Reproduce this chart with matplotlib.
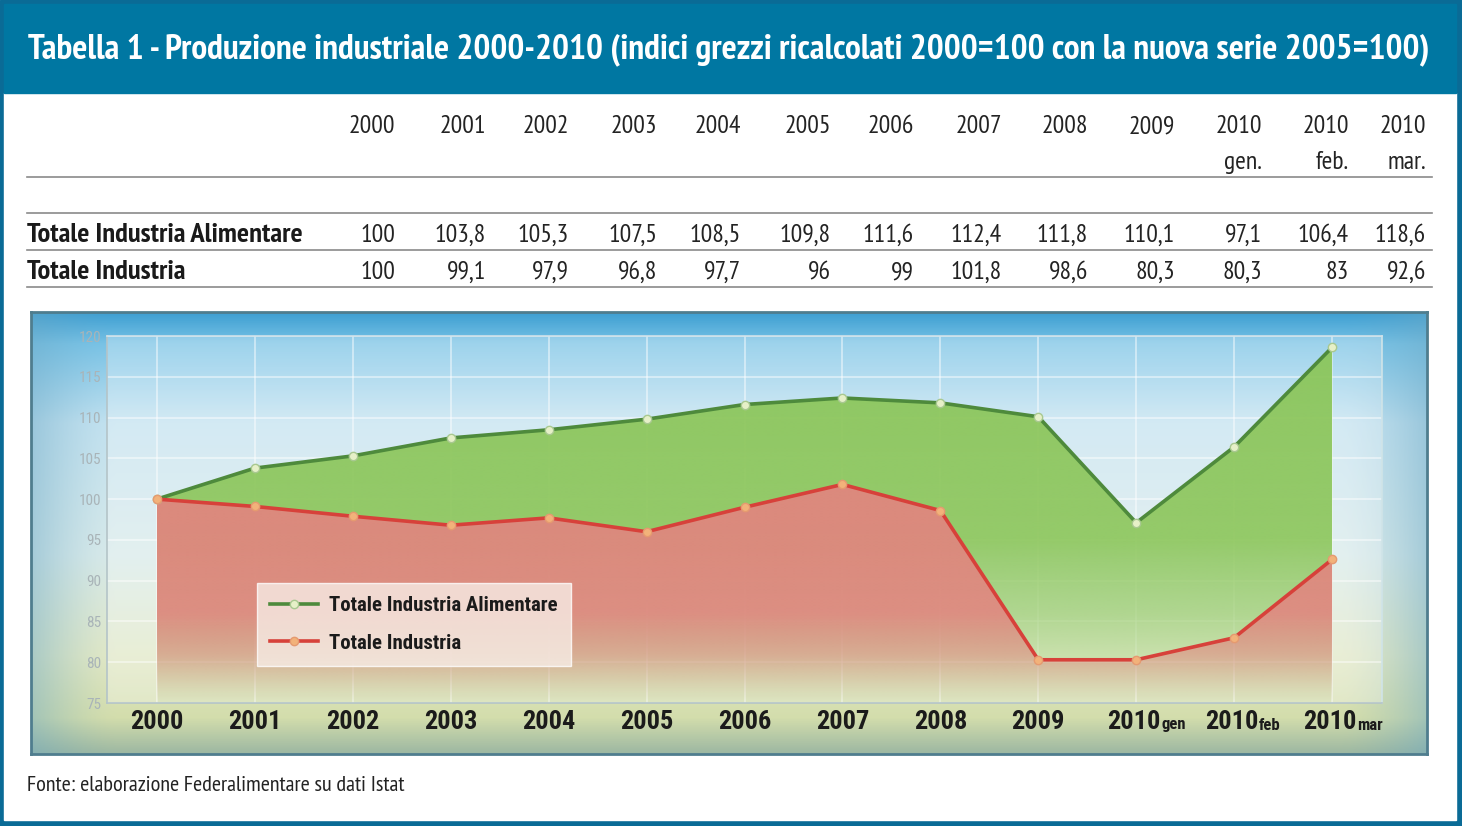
import numpy as np
import matplotlib
matplotlib.use("Agg")
import matplotlib.pyplot as plt
from matplotlib.colors import to_rgb
from matplotlib.patches import Rectangle

# ---------------- data ----------------
title = "Tabella 1 - Produzione industriale 2000-2010 (indici grezzi ricalcolati 2000=100 con la nuova serie 2005=100)"
col_years = ["2000", "2001", "2002", "2003", "2004", "2005", "2006", "2007", "2008", "2009", "2010", "2010", "2010"]
col_months = ["", "", "", "", "", "", "", "", "", "", "gen.", "feb.", "mar."]
chart_months = ["", "", "", "", "", "", "", "", "", "", "gen", "feb", "mar"]
series_names = ["Totale Industria Alimentare", "Totale Industria"]
alimentare = [100, 103.8, 105.3, 107.5, 108.5, 109.8, 111.6, 112.4, 111.8, 110.1, 97.1, 106.4, 118.6]
industria = [100, 99.1, 97.9, 96.8, 97.7, 96, 99, 101.8, 98.6, 80.3, 80.3, 83, 92.6]
y_ticks = [75, 80, 85, 90, 95, 100, 105, 110, 115, 120]
source = "Fonte: elaborazione Federalimentare su dati Istat"

# ---------------- fonts ----------------
FAM = ["PT Sans Narrow", "DejaVu Sans"]
FAM_TITLE = ["PT Sans Narrow", "DejaVu Sans"]
FAM_CHART = ["Roboto Condensed", "DejaVu Sans"]

W, H = 1462, 826
fig = plt.figure(figsize=(W / 100, H / 100), dpi=100)

bg = fig.add_axes([0, 0, 1, 1])
bg.set_xlim(0, W)
bg.set_ylim(H, 0)
bg.axis("off")

BLUE = "#0a6b96"
bg.add_patch(Rectangle((0, 0), W, H, color=BLUE, zorder=0))
bg.add_patch(Rectangle((4, 93), W - 10, H - 93 - 6, color="white", zorder=1))
bg.add_patch(Rectangle((4, 4), W - 10, 89, color="#0077a2", zorder=1))

fig.canvas.draw()
renderer = fig.canvas.get_renderer()


def fit_text(x, y, s, target_w, size, **kw):
    t = bg.text(x, y, s, fontsize=size, **kw)
    w = t.get_window_extent(renderer).width
    t.set_fontsize(size * target_w / w)
    return t


fit_text(28, 58, title, 1404, 24, color="white", fontweight="bold", family=FAM_TITLE,
         va="baseline", ha="left", zorder=3)

# table
col_right = [395, 486, 569, 657, 741, 831, 914, 1002, 1088, 1175, 1262, 1349, 1426]
TXT = "#232323"
NUM_FS = 18.5
for xr, yr, mo in zip(col_right, col_years, col_months):
    bg.text(xr, 133, yr, fontsize=NUM_FS, family=FAM, color=TXT, ha="right", va="baseline", zorder=3)
    if mo:
        bg.text(xr, 169, mo, fontsize=NUM_FS, family=FAM, color=TXT, ha="right", va="baseline", zorder=3)

for yl in [177, 213, 250, 287]:
    bg.plot([27, 1432], [yl, yl], color="#8a8a8a", lw=1.2, zorder=3)


def fmt(v):
    s = ("%.1f" % v).replace(".", ",")
    return s[:-2] if s.endswith(",0") else s


row_base = [242, 279]
lab0 = fit_text(27, row_base[0], series_names[0], 275, 20, family=FAM, fontweight="bold",
                color="#1a1a1a", ha="left", va="baseline", zorder=3)
bg.text(27, row_base[1], series_names[1], fontsize=lab0.get_fontsize(), family=FAM, fontweight="bold",
        color="#1a1a1a", ha="left", va="baseline", zorder=3)
for row_y, vals in zip(row_base, [alimentare, industria]):
    for xr, v in zip(col_right, vals):
        bg.text(xr, row_y, fmt(v), fontsize=NUM_FS, family=FAM, color=TXT,
                ha="right", va="baseline", zorder=3)

fit_text(27, 791, source, 378, 14.5, family=FAM, color=TXT, ha="left", va="baseline", zorder=3)

# ---------------- chart panel ----------------
PX0, PY0, PX1, PY1 = 31, 312, 1427, 754
panel = fig.add_axes([PX0 / W, 1 - PY1 / H, (PX1 - PX0) / W, (PY1 - PY0) / H])
panel.set_xticks([])
panel.set_yticks([])
stops = [(0.0, "#3e9fd2"), (0.07, "#79c3e6"), (0.25, "#c3e2f0"), (0.55, "#d8eaea"),
         (0.78, "#e1e8c6"), (0.92, "#d3ddac"), (1.0, "#9db8a2")]
ny, nx = 200, 300
tv = np.linspace(0, 1, ny)
sp = [s[0] for s in stops]
cols = np.array([to_rgb(s[1]) for s in stops])
grad = np.stack([np.interp(tv, sp, cols[:, k]) for k in range(3)], axis=1)
img = np.repeat(grad[:, None, :], nx, axis=1)
hx = np.linspace(0, 1, nx)
edge = np.clip(1 - np.minimum(hx, 1 - hx) / 0.06, 0, 1) ** 1.5
edge_col = np.array(to_rgb("#6aa7c4"))
img = img * (1 - 0.45 * edge[None, :, None]) + edge_col * 0.45 * edge[None, :, None]
panel.imshow(img, aspect="auto", extent=[0, 1, 0, 1], origin="upper")
panel.set_xlim(0, 1)
panel.set_ylim(0, 1)
for s in panel.spines.values():
    s.set_color("#4f7d8e")
    s.set_linewidth(2)

# ---------------- plot area ----------------
AX0, AY0, AX1, AY1 = 107, 336, 1382, 703
ax = fig.add_axes([AX0 / W, 1 - AY1 / H, (AX1 - AX0) / W, (AY1 - AY0) / H])
ax.set_facecolor((1, 1, 1, 0.28))
x = np.arange(len(alimentare))
ax.set_xlim(-0.51, len(x) - 0.49)
ax.set_ylim(75, 120)

GREEN_FILL = "#8cc65a"
RED_FILL = "#e58280"


def grad_fill(y_top, color, alpha_stops, z):
    poly = ax.fill_between(x, 75, y_top, color="none", lw=0, zorder=z)
    yy = np.linspace(120, 75, 300)
    a = np.interp(yy, [p[0] for p in alpha_stops], [p[1] for p in alpha_stops])
    rgba = np.zeros((300, 2, 4))
    rgba[..., :3] = to_rgb(color)
    rgba[..., 3] = a[:, None]
    im = ax.imshow(rgba, aspect="auto", extent=[x[0], x[-1], 75, 120], origin="upper",
                   zorder=z, interpolation="bilinear")
    im.set_clip_path(poly.get_paths()[0], transform=ax.transData)


grad_fill(alimentare, GREEN_FILL, [(75, 0.05), (79, 0.25), (86, 0.6), (95, 0.9), (120, 0.95)], 2)
grad_fill(industria, RED_FILL, [(75, 0.0), (77, 0.15), (81, 0.55), (86, 0.85), (120, 0.95)], 3)

ax.set_xticks(x)
ax.set_yticks(y_ticks)
ax.grid(True, color="white", alpha=0.5, lw=1.3)
for gl in ax.get_xgridlines() + ax.get_ygridlines():
    gl.set_zorder(3.5)

ax.plot(x, alimentare, color="#4e8a3c", lw=2.6, marker="o", ms=6,
        mfc="#e6f0c8", mec="#a8c890", mew=1, zorder=5, label=series_names[0])
ax.plot(x, industria, color="#d7413a", lw=2.6, marker="o", ms=6,
        mfc="#f2b27a", mec="#e59a70", mew=1, zorder=5, label=series_names[1])

ax.tick_params(length=0, labelbottom=False)
ax.set_yticklabels([str(t) for t in y_ticks], fontsize=11, color="#a9b4b8", family=FAM_CHART)
ax.tick_params(axis="y", pad=4)
for s in ax.spines.values():
    s.set_color("#b4c4c8")
    s.set_linewidth(1.2)
ax.spines["top"].set_color("#d0e2ea")
ax.spines["right"].set_color("#d0e4e8")

# x labels
XL = "#1b1b1b"
for xi, yr, mo in zip(x, col_years, chart_months):
    if mo:
        ax.annotate(yr, (xi, 0), xycoords=("data", "axes fraction"), xytext=(24, -19),
                    textcoords="offset pixels", ha="right", va="center", fontsize=19,
                    fontweight="bold", family=FAM_CHART, color=XL, annotation_clip=False)
        ax.annotate(mo, (xi, 0), xycoords=("data", "axes fraction"), xytext=(25, -22),
                    textcoords="offset pixels", ha="left", va="center", fontsize=12,
                    fontweight="bold", family=FAM_CHART, color=XL, annotation_clip=False)
    else:
        ax.annotate(yr, (xi, 0), xycoords=("data", "axes fraction"), xytext=(0, -19),
                    textcoords="offset pixels", ha="center", va="center", fontsize=19,
                    fontweight="bold", family=FAM_CHART, color=XL, annotation_clip=False)

leg = ax.legend(loc="upper left", bbox_to_anchor=((257 - AX0) / (AX1 - AX0), 1 - (583 - AY0) / (AY1 - AY0)),
                frameon=True, fancybox=False, prop={"family": FAM_CHART, "weight": "bold", "size": 15},
                handlelength=2.3, handletextpad=0.55, labelspacing=0.9, borderpad=0.62,
                borderaxespad=0)
leg.get_frame().set_facecolor((0.97, 0.93, 0.90, 0.72))
leg.get_frame().set_edgecolor((1, 1, 1, 0.5))
leg.set_zorder(6)
for t in leg.get_texts():
    t.set_color(XL)

fig.savefig("out.png", dpi=100)
